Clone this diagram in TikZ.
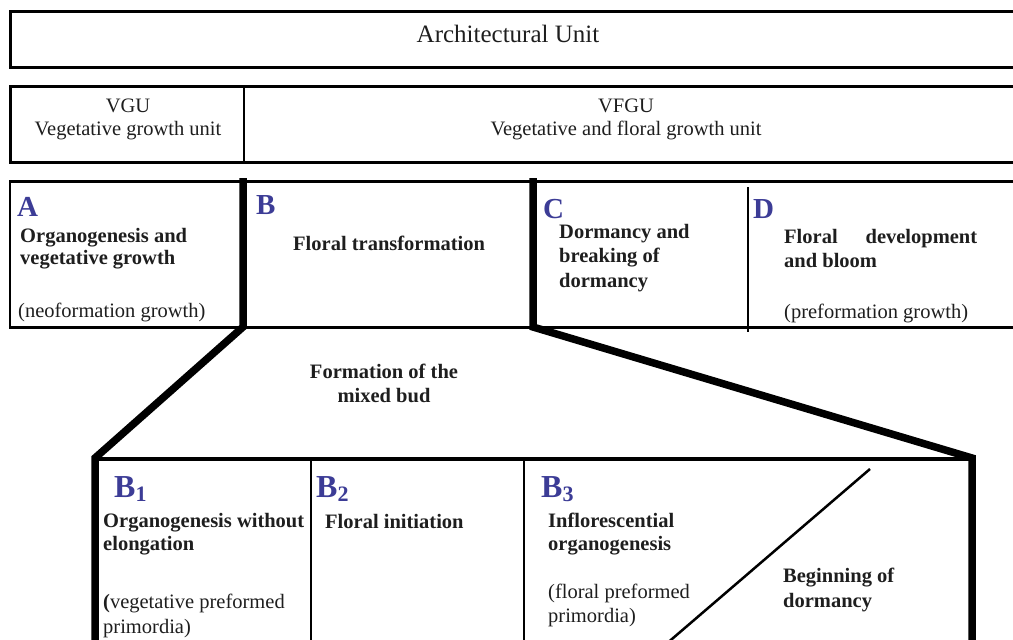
\documentclass[tikz,border=0pt]{standalone}
\usepackage{fontspec}
\setmainfont{Liberation Serif}
\definecolor{letterblue}{RGB}{60,60,150}
\definecolor{inkgray}{RGB}{30,30,30}
\begin{document}
\begin{tikzpicture}[x=1pt,y=-1pt,
  txt/.style={anchor=base west,inner sep=0pt,text=inkgray,font=\fontsize{20.5}{24}\selectfont},
  ctxt/.style={txt,anchor=base},
  btxt/.style={txt,font=\fontsize{20.5}{24}\selectfont\bfseries},
  cbtxt/.style={btxt,anchor=base},
  letter/.style={anchor=base west,inner sep=0pt,font=\fontsize{29}{29}\selectfont\bfseries,text=letterblue},
  subletter/.style={letter,font=\fontsize{32}{32}\selectfont\bfseries},
  frame/.style={line width=3pt,line cap=rect},
  thickframe/.style={line width=7.5pt,line join=miter},
  thinrule/.style={line width=2pt},
  bigtxt/.style={ctxt,font=\fontsize{25}{28}\selectfont}]
\newcommand{\mysub}[1]{\raisebox{-4pt}{\fontsize{22}{22}\selectfont #1}}
\useasboundingbox (0,0) rectangle (1013,640);

% ---- row 1 : architectural unit
\draw[frame] (1025,11) -- (10,11) -- (10,67) -- (1025,67);
\node[bigtxt] (arch) at (508,42) {Architectural Unit};

% ---- row 2 : VGU / VFGU
\draw[frame] (1025,86) -- (10,86) -- (10,162) -- (1025,162);
\draw[line width=2.5pt] (244,86) -- (244,162);
\node[ctxt] (vgu1) at (128,112) {VGU};
\node[ctxt] (vgu2) at (128,135) {Vegetative growth unit};
\node[ctxt] (vfgu1) at (626,112) {VFGU};
\node[ctxt] (vfgu2) at (626,135) {Vegetative and floral growth unit};

% ---- row 3 : phases A-D
\draw[frame] (1025,181) -- (10,181);
\draw[frame] (1025,327) -- (10,327);
\draw[thinrule] (10,181) -- (10,327);
\draw[thinrule] (748,187) -- (748,332);
\draw[thickframe] (243,178) -- (243,327) -- (95,458) -- (95,650);
\draw[thickframe] (533,178) -- (533,327) -- (972,458) -- (972,650);

\node[letter] (la) at (17,216) {A};
\node[btxt] (a1) at (20,242) {Organogenesis and};
\node[btxt] (a2) at (20,264) {vegetative growth};
\node[txt] (a3) at (18,317) {(neoformation growth)};

\node[letter] (lb) at (256,214) {B};
\node[btxt] (b1) at (293,250) {Floral transformation};

\node[letter] (lc) at (543,218) {C};
\node[btxt] (c1) at (559,238) {Dormancy and};
\node[btxt] (c2) at (559,262) {breaking of};
\node[btxt] (c3) at (559,287) {dormancy};

\node[letter] (ld) at (753,218) {D};
\node[btxt] (d1) at (784,243) {\makebox[193pt][s]{Floral development}};
\node[btxt] (d2) at (784,267) {and bloom};
\node[txt] (d3) at (784,318) {(preformation growth)};

% ---- mixed bud
\node[cbtxt] (mb1) at (384,378) {Formation of the};
\node[cbtxt] (mb2) at (384,402) {mixed bud};

% ---- bottom box : B1-B3
\draw[line width=4pt] (95,459) -- (972,459);
\draw[thinrule] (311,459) -- (311,650);
\draw[thinrule] (524,459) -- (524,650);
\draw[line width=2.5pt] (870,469) -- (665,645);

\node[subletter] (lb1) at (114,497) {B\mysub{1}};
\node[btxt] (b1a) at (103,527) {Organogenesis without};
\node[btxt] (b1b) at (103,550) {elongation};
\node[txt] (b1c) at (103,608) {{\bfseries(}vegetative preformed};
\node[txt] (b1d) at (103,633) {primordia)};

\node[subletter] (lb2) at (316,497) {B\mysub{2}};
\node[btxt] (b2a) at (325,528) {Floral initiation};

\node[subletter] (lb3) at (541,497) {B\mysub{3}};
\node[btxt] (b3a) at (548,527) {Inflorescential};
\node[btxt] (b3b) at (548,550) {organogenesis};
\node[txt] (b3c) at (548,598) {(floral preformed};
\node[txt] (b3d) at (548,622) {primordia)};

\node[btxt] (bd1) at (783,582) {Beginning of};
\node[btxt] (bd2) at (783,607) {dormancy};
\end{tikzpicture}
\end{document}
